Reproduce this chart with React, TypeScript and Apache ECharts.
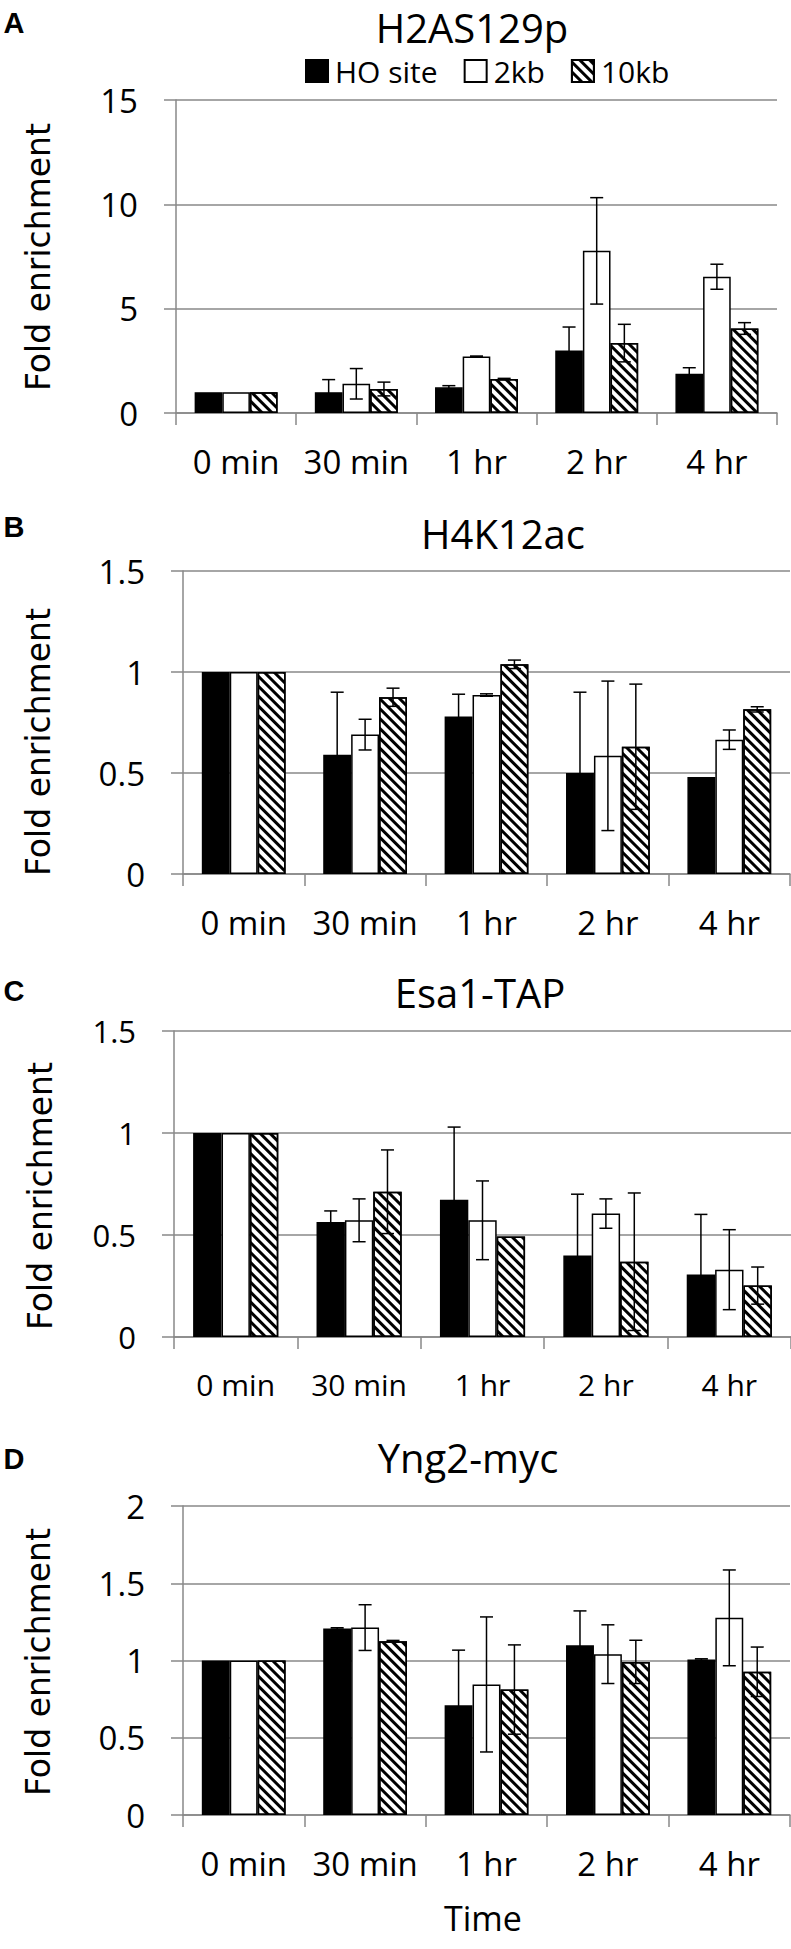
import React, { useEffect, useRef } from "react";
import * as echarts from "echarts";

const categories = ["0 min", "30 min", "1 hr", "2 hr", "4 hr"];
const seriesNames = ["HO site", "2kb", "10kb"];

// Panel A: H2AS129p
const aHO = [1, 1.0, 1.23, 3.0, 1.88];
const aHOErr = [0, 0.6, 0.08, 1.12, 0.29];
const a2kb = [1, 1.4, 2.71, 7.77, 6.53];
const a2kbErr = [0, 0.73, 0.02, 2.55, 0.6];
const a10kb = [1, 1.15, 1.63, 3.35, 4.05];
const a10kbErr = [0, 0.33, 0.03, 0.9, 0.28];

// Panel B: H4K12ac
const bHO = [1, 0.59, 0.78, 0.5, 0.48];
const bHOErr = [0, 0.31, 0.11, 0.4, 0];
const b2kb = [1, 0.69, 0.886, 0.585, 0.665];
const b2kbErr = [0, 0.076, 0.006, 0.37, 0.048];
const b10kb = [1, 0.875, 1.038, 0.63, 0.815];
const b10kbErr = [0, 0.045, 0.021, 0.31, 0.013];

// Panel C: Esa1-TAP
const cHO = [1, 0.564, 0.673, 0.4, 0.306];
const cHOErr = [0, 0.054, 0.356, 0.3, 0.295];
const c2kb = [1, 0.572, 0.572, 0.605, 0.33];
const c2kbErr = [0, 0.105, 0.193, 0.072, 0.196];
const c10kb = [1, 0.712, 0.493, 0.369, 0.252];
const c10kbErr = [0, 0.205, 0, 0.337, 0.091];

// Panel D: Yng2-myc
const dHO = [1, 1.207, 0.711, 1.099, 1.006];
const dHOErr = [0, 0.005, 0.356, 0.222, 0.005];
const d2kb = [1, 1.213, 0.845, 1.041, 1.276];
const d2kbErr = [0, 0.148, 0.437, 0.19, 0.31];
const d10kb = [1, 1.125, 0.812, 0.991, 0.927];
const d10kbErr = [0, 0.005, 0.289, 0.14, 0.16];

const panelTitles = ["H2AS129p", "H4K12ac", "Esa1-TAP", "Yng2-myc"];
const panelLetters = ["A", "B", "C", "D"];
const yMax = [15, 1.5, 1.5, 2];
const yInterval = [5, 0.5, 0.5, 0.5];

const panels = [
  { vals: [aHO, a2kb, a10kb], errs: [aHOErr, a2kbErr, a10kbErr] },
  { vals: [bHO, b2kb, b10kb], errs: [bHOErr, b2kbErr, b10kbErr] },
  { vals: [cHO, c2kb, c10kb], errs: [cHOErr, c2kbErr, c10kbErr] },
  { vals: [dHO, d2kb, d10kb], errs: [dHOErr, d2kbErr, d10kbErr] },
];

// layout (px)
const grids = [
  { left: 176, right: 14, top: 100, height: 313 },
  { left: 183, right: 1, top: 571, height: 303 },
  { left: 174, right: 0, top: 1031, height: 306 },
  { left: 183, right: 1, top: 1506, height: 309 },
];
const titlePos = [
  [472, 27],
  [503, 533],
  [480, 992],
  [468, 1457],
];
const letterPos = [
  [14, 23],
  [14, 527],
  [14, 991],
  [14, 1459],
];
const yNamePos = [
  [38, 257],
  [38, 742],
  [40, 1196],
  [38, 1662],
];
const xLabelSize = [33, 33, 30, 33];

const GAP = 0.31;
const GRAY = "#888888";
const FONT = "'Open Sans', 'DejaVu Sans', sans-serif";

const hatch = {
  symbol: "rect",
  symbolSize: 1,
  dashArrayX: [1, 0],
  dashArrayY: [3, 4],
  rotation: Math.PI / 4,
  color: "#000",
  backgroundColor: "rgba(0,0,0,0)",
};

function barStyle(si: number) {
  if (si === 0) return { color: "#000", borderColor: "#000", borderWidth: 1.5 };
  if (si === 1) return { color: "#fff", borderColor: "#000", borderWidth: 1.5 };
  return { color: "#fff", borderColor: "#000", borderWidth: 1.5, decal: hatch };
}

function errSeries(gi: number, si: number, vals: number[], errs: number[]) {
  return {
    type: "custom",
    xAxisIndex: gi,
    yAxisIndex: gi,
    z: 10,
    silent: true,
    data: vals.map((v, i) => [i, v, errs[i]]),
    renderItem: (params: any, api: any) => {
      const i = api.value(0);
      const v = api.value(1);
      const e = api.value(2);
      if (!e) return null;
      const band = api.size([1, 0])[0];
      const bw = (band * (1 - GAP)) / 3;
      const off = (si - 1) * bw;
      const top = api.coord([i, v + e]);
      const bot = api.coord([i, Math.max(0, v - e)]);
      const x = top[0] + off;
      const cap = 6.5;
      const st = { stroke: "#000", lineWidth: 1.5 };
      return {
        type: "group",
        children: [
          { type: "line", shape: { x1: x, y1: top[1], x2: x, y2: bot[1] }, style: st },
          { type: "line", shape: { x1: x - cap, y1: top[1], x2: x + cap, y2: top[1] }, style: st },
          { type: "line", shape: { x1: x - cap, y1: bot[1], x2: x + cap, y2: bot[1] }, style: st },
        ],
      };
    },
  };
}

export default function App() {
  const ref = useRef<HTMLDivElement>(null);
  useEffect(() => {
    if (!ref.current) return;
    const chart = echarts.init(ref.current, null, { renderer: "svg" });
    const series: any[] = [];
    panels.forEach((p, gi) => {
      p.vals.forEach((vals, si) => {
        series.push({
          type: "bar",
          name: seriesNames[si],
          xAxisIndex: gi,
          yAxisIndex: gi,
          data: vals,
          barGap: "0%",
          barCategoryGap: GAP * 100 + "%",
          itemStyle: barStyle(si),
        });
      });
    });
    panels.forEach((p, gi) => {
      p.vals.forEach((vals, si) => {
        series.push(errSeries(gi, si, vals, p.errs[si]));
      });
    });

    const graphics: any[] = [];
    panelTitles.forEach((t, i) => {
      graphics.push({
        type: "text",
        x: titlePos[i][0],
        y: titlePos[i][1],
        style: {
          text: t,
          fontSize: 40,
          fontFamily: FONT,
          fill: "#000",
          align: "center",
          verticalAlign: "middle",
        },
      });
      graphics.push({
        type: "text",
        x: letterPos[i][0],
        y: letterPos[i][1],
        style: {
          text: panelLetters[i],
          fontSize: 29,
          fontWeight: "bold",
          fontFamily: "'Liberation Sans', Arial, sans-serif",
          fill: "#000",
          align: "center",
          verticalAlign: "middle",
        },
      });
      graphics.push({
        type: "text",
        x: yNamePos[i][0],
        y: yNamePos[i][1],
        rotation: Math.PI / 2,
        style: {
          text: "Fold enrichment",
          fontSize: 33,
          fontFamily: "'DejaVu Sans', sans-serif",
          fill: "#000",
          align: "center",
          verticalAlign: "middle",
        },
      });
    });
    graphics.push({
      type: "text",
      x: 483,
      y: 1918,
      style: {
        text: "Time",
        fontSize: 34,
        fontFamily: FONT,
        fill: "#000",
        align: "center",
        verticalAlign: "middle",
      },
    });

    chart.setOption({
      animation: false,
      backgroundColor: "#fff",
      legend: {
        data: seriesNames,
        left: 305,
        top: 56,
        padding: 0,
        itemWidth: 22,
        itemHeight: 22,
        itemGap: 26,
        icon: "rect",
        selectedMode: false,
        textStyle: { fontSize: 30, fontFamily: FONT, color: "#000", padding: [0, 0, 0, 2] },
      },
      grid: grids.map((g) => ({ ...g, containLabel: false })),
      xAxis: grids.map((g, i) => ({
        type: "category",
        gridIndex: i,
        data: categories,
        axisLine: { show: true, lineStyle: { color: GRAY, width: 1.5 } },
        axisTick: { show: true, length: 12, lineStyle: { color: GRAY, width: 1.5 } },
        axisLabel: {
          color: "#000",
          fontSize: xLabelSize[i],
          fontFamily: FONT,
          margin: 32,
          interval: 0,
        },
        splitLine: { show: false },
      })),
      yAxis: grids.map((g, i) => ({
        type: "value",
        gridIndex: i,
        min: 0,
        max: yMax[i],
        interval: yInterval[i],
        axisLine: { show: true, lineStyle: { color: GRAY, width: 1.5 } },
        axisTick: { show: true, length: 12, lineStyle: { color: GRAY, width: 1.5 } },
        axisLabel: {
          color: "#000",
          fontSize: i === 2 ? 31 : 33,
          fontFamily: FONT,
          margin: 38,
        },
        splitLine: { show: true, lineStyle: { color: GRAY, width: 1.5 } },
      })),
      series,
      graphic: graphics,
    });
    return () => chart.dispose();
  }, []);
  return (
    <div
      ref={ref}
      style={{ position: "absolute", left: 0, top: 0, width: 791, height: 1949 }}
    />
  );
}
